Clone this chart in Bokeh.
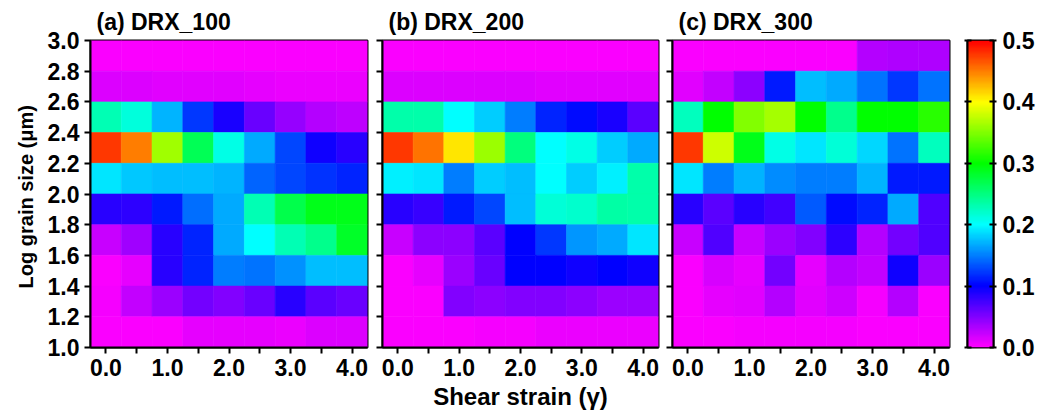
import colorsys

import numpy as np
from bokeh.embed import file_html
from bokeh.layouts import row
from bokeh.models import (ColumnDataSource, FixedTicker, LinearAxis,
                          LinearColorMapper, PrintfTickFormatter)
from bokeh.plotting import figure
from bokeh.resources import INLINE
from bokeh.transform import transform

# ---- data -------------------------------------------------------------
strain = [0.0, 0.5, 1.0, 1.5, 2.0, 2.5, 3.0, 3.5, 4.0]
# log grain size bin centres, listed from the top row down
log_size = [2.9, 2.7, 2.5, 2.3, 2.1, 1.9, 1.7, 1.5, 1.3, 1.1]

drx_100 = [
    [0.003, 0.003, 0.003, 0.003, 0.003, 0.003, 0.003, 0.003, 0.003],
    [0.015, 0.015, 0.012, 0.012, 0.012, 0.010, 0.008, 0.008, 0.008],
    [0.230, 0.213, 0.170, 0.123, 0.090, 0.060, 0.042, 0.030, 0.027],
    [0.477, 0.450, 0.363, 0.267, 0.210, 0.167, 0.127, 0.095, 0.085],
    [0.190, 0.178, 0.175, 0.175, 0.170, 0.140, 0.127, 0.120, 0.115],
    [0.085, 0.083, 0.110, 0.143, 0.167, 0.230, 0.270, 0.290, 0.290],
    [0.022, 0.038, 0.085, 0.115, 0.167, 0.200, 0.230, 0.245, 0.285],
    [0.003, 0.010, 0.085, 0.115, 0.150, 0.145, 0.158, 0.175, 0.175],
    [0.005, 0.025, 0.040, 0.055, 0.050, 0.060, 0.085, 0.065, 0.060],
    [0.003, 0.003, 0.003, 0.010, 0.010, 0.010, 0.008, 0.015, 0.015],
]

drx_200 = [
    [0.003, 0.003, 0.003, 0.003, 0.003, 0.003, 0.003, 0.003, 0.003],
    [0.015, 0.015, 0.015, 0.015, 0.015, 0.012, 0.012, 0.012, 0.012],
    [0.233, 0.233, 0.200, 0.180, 0.150, 0.115, 0.105, 0.090, 0.065],
    [0.477, 0.455, 0.410, 0.360, 0.250, 0.200, 0.210, 0.180, 0.167],
    [0.195, 0.190, 0.150, 0.180, 0.175, 0.200, 0.180, 0.195, 0.233],
    [0.085, 0.080, 0.110, 0.127, 0.175, 0.215, 0.220, 0.235, 0.233],
    [0.022, 0.045, 0.045, 0.065, 0.100, 0.123, 0.160, 0.167, 0.190],
    [0.003, 0.010, 0.040, 0.060, 0.100, 0.100, 0.095, 0.100, 0.095],
    [0.003, 0.003, 0.050, 0.045, 0.050, 0.050, 0.045, 0.040, 0.040],
    [0.003, 0.003, 0.003, 0.005, 0.005, 0.008, 0.008, 0.008, 0.008],
]

drx_300 = [
    [0.003, 0.003, 0.003, 0.003, 0.003, 0.003, 0.030, 0.033, 0.033],
    [0.013, 0.025, 0.045, 0.110, 0.175, 0.167, 0.145, 0.123, 0.145],
    [0.225, 0.300, 0.350, 0.365, 0.300, 0.245, 0.300, 0.300, 0.315],
    [0.477, 0.380, 0.290, 0.210, 0.190, 0.215, 0.185, 0.145, 0.225],
    [0.190, 0.150, 0.170, 0.155, 0.150, 0.150, 0.170, 0.110, 0.110],
    [0.085, 0.065, 0.085, 0.075, 0.135, 0.105, 0.115, 0.167, 0.070],
    [0.022, 0.070, 0.022, 0.040, 0.050, 0.083, 0.030, 0.055, 0.070],
    [0.003, 0.017, 0.010, 0.055, 0.010, 0.030, 0.025, 0.095, 0.040],
    [0.003, 0.010, 0.012, 0.030, 0.012, 0.020, 0.005, 0.030, 0.003],
    [0.003, 0.003, 0.005, 0.005, 0.005, 0.005, 0.003, 0.003, 0.003],
]

y_ticks = [1.0, 1.2, 1.4, 1.6, 1.8, 2.0, 2.2, 2.4, 2.6, 2.8, 3.0]
x_ticks = [0.0, 1.0, 2.0, 3.0, 4.0]
x_minor = [0.5, 1.5, 2.5, 3.5]
cbar_ticks = [0.0, 0.1, 0.2, 0.3, 0.4, 0.5]

# ---- colour scale: hue sweeps magenta -> blue -> cyan -> green -> yellow -> red
palette = []
for i in range(256):
    r, g, b = colorsys.hsv_to_rgb((300.0 - 300.0 * i / 255) / 360.0, 1.0, 1.0)
    palette.append("#%02x%02x%02x" % (round(r * 255), round(g * 255), round(b * 255)))
mapper = LinearColorMapper(palette=palette, low=0.0, high=0.5)

FONT = "Liberation Sans"
FRAME_H = 307
TOP, BOTTOM = 40, 69


def blank_labels(ticks):
    # tick marks kept, their labels left empty
    return {t: "" for t in ticks}


def style_axes(p, show_ylabels):
    for ax in (p.xaxis[0], p.yaxis[0]):
        ax.axis_line_width = 2
        ax.major_tick_line_width = 2
        ax.minor_tick_line_width = 2
        ax.major_tick_in = 0
        ax.major_tick_out = 6
        ax.major_label_text_font = FONT
        ax.major_label_text_font_style = "bold"
        ax.major_label_text_font_size = "23px"
        ax.major_label_text_color = "black"
        ax.axis_label_text_font = FONT
        ax.axis_label_text_font_style = "bold"
        ax.axis_label_text_color = "black"
    p.xaxis.ticker = FixedTicker(ticks=x_ticks, minor_ticks=x_minor)
    p.xaxis.minor_tick_in = 0
    p.xaxis.minor_tick_out = 6
    p.xaxis.formatter = PrintfTickFormatter(format="%.1f")
    p.xaxis.major_label_standoff = 5
    p.yaxis.ticker = FixedTicker(ticks=y_ticks)
    p.yaxis.minor_tick_line_color = None
    p.yaxis.formatter = PrintfTickFormatter(format="%.1f")
    if not show_ylabels:
        p.yaxis.major_label_overrides = blank_labels(y_ticks)
        p.yaxis.major_label_standoff = 0
    else:
        p.yaxis.major_label_standoff = 5


def panel(title, values, frame_w, left, right, show_ylabels=False, xlabel=None):
    xs, ys, vs = [], [], []
    for yc, row_vals in zip(log_size, values):
        for xc, v in zip(strain, row_vals):
            xs.append(xc)
            ys.append(yc)
            vs.append(v)
    src = ColumnDataSource(dict(x=xs, y=ys, v=vs))

    p = figure(frame_width=frame_w, frame_height=FRAME_H,
               x_range=(-0.25, 4.25), y_range=(1.0, 3.0),
               min_border_left=left, min_border_right=right,
               min_border_top=TOP, min_border_bottom=BOTTOM,
               output_backend="svg", toolbar_location=None, title=title)
    p.rect(x="x", y="y", width=0.5, height=0.2, source=src,
           fill_color=transform("v", mapper), line_color=transform("v", mapper),
           line_width=0.6)
    p.grid.visible = False
    p.outline_line_color = "black"
    p.outline_line_width = 2
    p.background_fill_color = "white"
    p.border_fill_color = "white"

    p.title.text_font = FONT
    p.title.text_font_style = "bold"
    p.title.text_font_size = "23px"
    p.title.text_color = "black"
    p.title.align = "left"
    p.title.offset = 6
    p.title.standoff = 12

    style_axes(p, show_ylabels)
    if show_ylabels:
        p.yaxis.axis_label = "Log grain size  (\u03bcm)"
        p.yaxis.axis_label_text_font_size = "20px"
        p.yaxis.axis_label_standoff = 8
    if xlabel:
        p.xaxis.axis_label = xlabel
        p.xaxis.axis_label_text_font_size = "24px"
        p.xaxis.axis_label_standoff = 4
    return p


pa = panel("(a) DRX_100", drx_100, 277, 90, 7, show_ylabels=True)
pb = panel("(b) DRX_200", drx_200, 276, 8, 7, xlabel="Shear strain (\u03b3)")
pc = panel("(c) DRX_300", drx_300, 277, 7, 6)

# ---- colour bar -------------------------------------------------------
gradient = np.linspace(0.0, 0.5, 256).reshape(256, 1)
cb = figure(frame_width=26, frame_height=FRAME_H, x_range=(0, 1), y_range=(0.0, 0.5),
            min_border_left=12, min_border_right=59,
            min_border_top=TOP, min_border_bottom=BOTTOM,
            y_axis_location="right", x_axis_location=None,
            output_backend="svg", toolbar_location=None)
cb.image(image=[gradient], x=0, y=0, dw=1, dh=0.5, color_mapper=mapper)
cb.grid.visible = False
cb.outline_line_color = "black"
cb.outline_line_width = 2
cb.yaxis.ticker = FixedTicker(ticks=cbar_ticks)
cb.yaxis.formatter = PrintfTickFormatter(format="%.1f")
cb.yaxis.minor_tick_line_color = None
cb.yaxis.axis_line_width = 2
cb.yaxis.major_tick_line_width = 2
cb.yaxis.major_tick_in = 4
cb.yaxis.major_tick_out = 3
cb.yaxis.major_label_standoff = 6
cb.yaxis.major_label_text_font = FONT
cb.yaxis.major_label_text_font_style = "bold"
cb.yaxis.major_label_text_font_size = "23px"
cb.yaxis.major_label_text_color = "black"
left_ticks = LinearAxis(ticker=FixedTicker(ticks=cbar_ticks), axis_line_width=2,
                        major_tick_line_width=2, major_tick_in=4, major_tick_out=3,
                        minor_tick_line_color=None, major_label_standoff=0,
                        major_label_overrides=blank_labels(cbar_ticks))
cb.add_layout(left_ticks, "left")

layout = row(pa, pb, pc, cb)
open("out.html", "w").write(file_html(layout, INLINE))
